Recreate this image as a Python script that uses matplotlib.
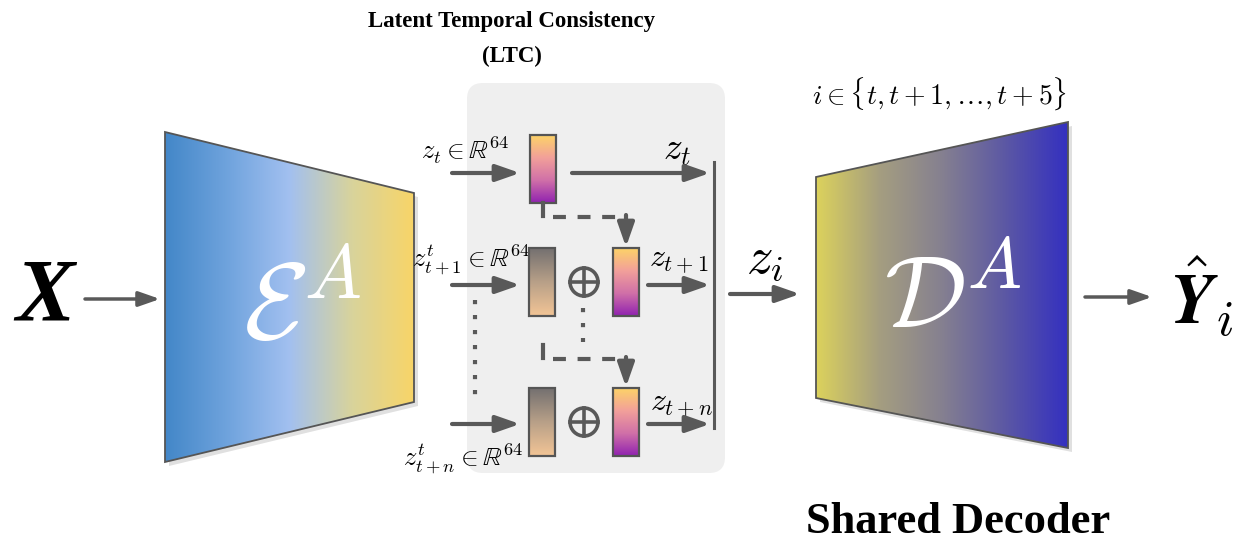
import numpy as np
import matplotlib
matplotlib.use("Agg")
import matplotlib.pyplot as plt
from matplotlib.patches import Polygon, FancyBboxPatch, Circle
from matplotlib.colors import LinearSegmentedColormap

plt.rcParams['mathtext.fontset'] = 'cm'

# texts of the diagram
title_lines = ["Latent Temporal Consistency", "(LTC)"]
bottom_title = "Shared Decoder"
input_labels = [r"$z_t \in \mathbb{R}^{64}$",
                r"$z^t_{t+1} \in \mathbb{R}^{64}$",
                r"$z^t_{t+n} \in \mathbb{R}^{64}$"]
output_labels = [r"$z_t$", r"$z_{t+1}$", r"$z_{t+n}$"]
index_label = r"$i \in \{t, t+1, \ldots, t+5\}$"

# colours
enc_colors = ["#4387c8", "#6fa3dd", "#a2c0f0", "#d8d39c", "#f8d568"]
dec_colors = ["#dcd25c", "#a59e80", "#858090", "#5c58a4", "#3430c0"]
z_colors = ["#fdd368", "#f2a09a", "#d070a8", "#9022b0"]
prev_colors = ["#747070", "#b8a088", "#f3c596"]
arrow_c = "#595959"


def grad_patch(ax, verts, colors, horizontal=True, z=2, ec="#555555", lw=1.3):
    poly = Polygon(verts, closed=True, fc="none", ec=ec, lw=lw, zorder=z + 1)
    ax.add_patch(poly)
    cmap = LinearSegmentedColormap.from_list("g", colors)
    xs = [v[0] for v in verts]
    ys = [v[1] for v in verts]
    g = np.linspace(0, 1, 256)
    data = g.reshape(1, -1) if horizontal else g.reshape(-1, 1)
    im = ax.imshow(data, cmap=cmap, extent=(min(xs), max(xs), max(ys), min(ys)),
                   aspect="auto", interpolation="bilinear", zorder=z)
    im.set_clip_path(poly)
    return poly


def arrow(ax, x0, y0, x1, y1, lw=3.0, ms=18):
    ax.annotate("", xy=(x1, y1), xytext=(x0, y0),
                arrowprops=dict(arrowstyle="-|>,head_length=0.8,head_width=0.28",
                                lw=lw, color=arrow_c, shrinkA=0, shrinkB=0,
                                mutation_scale=ms), zorder=6)


def bar(ax, x, y, colors):
    w, h = 26, 68
    verts = [(x, y), (x + w, y), (x + w, y + h), (x, y + h)]
    grad_patch(ax, verts, colors, horizontal=False, z=4, lw=1.6)


def oplus(ax, x, y, r=14):
    ax.add_patch(Circle((x, y), r, fc="none", ec=arrow_c, lw=2.6, zorder=5))
    ax.plot([x - r, x + r], [y, y], color=arrow_c, lw=2.6, zorder=5)
    ax.plot([x, x], [y - r, y + r], color=arrow_c, lw=2.6, zorder=5)


fig = plt.figure(figsize=(12.45, 5.48), dpi=100)
ax = fig.add_axes([0, 0, 1, 1])

# LTC background box
ax.add_patch(FancyBboxPatch((467, 83), 258, 390,
                            boxstyle="round,pad=0,rounding_size=16",
                            fc="#efefef", ec="none", zorder=0))

# encoder
enc = [(165, 132), (414, 193), (414, 402), (165, 462)]
ax.add_patch(Polygon([(x + 4, y + 4) for x, y in enc], fc="#000000", alpha=0.12,
                     ec="none", zorder=1))
grad_patch(ax, enc, enc_colors)
ax.text(302, 310, r"$\mathcal{E}^A$", color="white", fontsize=78,
        ha="center", va="center", zorder=5)

# decoder
dec = [(816, 177), (1068, 122), (1068, 448), (816, 398)]
ax.add_patch(Polygon([(x + 4, y + 4) for x, y in dec], fc="#000000", alpha=0.12,
                     ec="none", zorder=1))
grad_patch(ax, dec, dec_colors)
ax.text(953, 300, r"$\mathcal{D}^A$", color="white", fontsize=74,
        ha="center", va="center", zorder=5)

# X and input arrow
ax.text(45, 298, "X", fontsize=64, family="Liberation Serif", weight="bold",
        style="italic", ha="center", va="center")
arrow(ax, 85, 299, 160, 299, lw=2.5, ms=16)

# rows
row_y = [173, 285, 424]
bar_top = [135, 248, 388]
for k in range(3):
    y = row_y[k]
    arrow(ax, 452, y, 520, y)
    if k == 0:
        bar(ax, 530, bar_top[k], z_colors)
        arrow(ax, 572, y, 710, y)
    else:
        bar(ax, 529, bar_top[k], prev_colors)
        oplus(ax, 584, bar_top[k] + 34)
        bar(ax, 613, bar_top[k], z_colors)
        arrow(ax, 648, y, 710, y)

ax.text(465, 150, input_labels[0], fontsize=19, ha="center", va="center")
ax.text(471, 260, input_labels[1], fontsize=19, ha="center", va="center")
ax.text(463, 459, input_labels[2], fontsize=19, ha="center", va="center")
ax.text(677, 150, output_labels[0], fontsize=27, ha="center", va="center")
ax.text(679, 260, output_labels[1], fontsize=23, ha="center", va="center")
ax.text(681, 404, output_labels[2], fontsize=23, ha="center", va="center")

# collecting line
ax.plot([714, 714], [162, 428], color=arrow_c, lw=2.2, zorder=6)

# dashed links between rows
for y0, y1 in [(203, 247), (345, 387)]:
    ax.plot([543, 543], [y0, y0 + 13], color=arrow_c, lw=3, zorder=6)
    ax.plot([553, 620], [y0 + 14, y0 + 14], color=arrow_c, lw=3,
            linestyle=(0, (3.1, 2.8)), zorder=6)
    arrow(ax, 626, y0 + 12, 626, y1)

# dotted lines
ax.plot([475, 475], [300, 402], color=arrow_c, lw=3, linestyle=(0, (1, 2.6)), zorder=6)
ax.plot([583, 583], [308, 342], color=arrow_c, lw=3, linestyle=(0, (1, 2.6)), zorder=6)

# to decoder
ax.text(765, 258, r"$z_i$", fontsize=38, ha="center", va="center")
arrow(ax, 730, 294, 800, 294)
ax.text(940, 94, index_label, fontsize=20, ha="center", va="center")

# output
arrow(ax, 1085, 297, 1152, 297, lw=2.5, ms=16)
ax.text(1201, 297, r"$\hat{\boldsymbol{Y}}_i$", fontsize=52, ha="center", va="center")

# titles
ax.text(512, 21, title_lines[0], fontsize=16.5, family="Liberation Serif",
        weight="bold", ha="center", va="center")
ax.text(512, 56, title_lines[1], fontsize=16.5, family="Liberation Serif",
        weight="bold", ha="center", va="center")
ax.text(958, 522, bottom_title, fontsize=32, family="Liberation Serif",
        weight="bold", ha="center", va="center")

ax.set_xlim(0, 1245)
ax.set_ylim(548, 0)
ax.axis("off")
fig.savefig("out.png", dpi=100)
